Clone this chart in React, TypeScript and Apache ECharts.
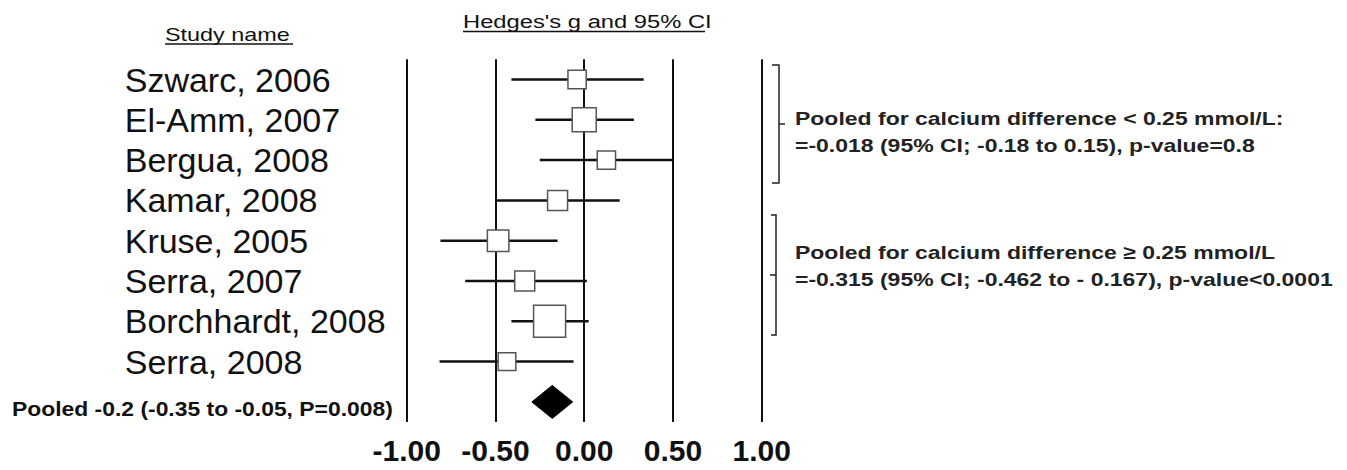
import React, { useEffect, useRef } from "react";
import * as echarts from "echarts";

// ---- data ----
const studyNames = [
  "Szwarc, 2006",
  "El-Amm, 2007",
  "Bergua, 2008",
  "Kamar, 2008",
  "Kruse, 2005",
  "Serra, 2007",
  "Borchhardt, 2008",
  "Serra, 2008",
];
const hedgesG = [-0.04, 0.0, 0.125, -0.15, -0.485, -0.335, -0.195, -0.435];
const lowerCI = [-0.41, -0.275, -0.25, -0.5, -0.81, -0.67, -0.41, -0.815];
const upperCI = [0.335, 0.28, 0.5, 0.2, -0.15, 0.015, 0.025, -0.06];
const weightPct = [8.7, 15.0, 8.7, 10.4, 12.0, 10.4, 26.7, 8.1];
const pooledDiamond = [-0.295, -0.18, -0.065]; // lower, estimate, upper

const pooledLabel = "Pooled -0.2 (-0.35 to -0.05, P=0.008)";
const groupNotes = [
  "Pooled for calcium difference < 0.25 mmol/L:",
  "=-0.018 (95% CI; -0.18 to 0.15), p-value=0.8",
  "Pooled for calcium difference \u2265 0.25 mmol/L",
  "=-0.315 (95% CI; -0.462 to - 0.167), p-value<0.0001",
];
const colTitles = ["Study name", "Hedges's g and 95% CI"];

const FONT = '"Liberation Sans", Arial, Helvetica, sans-serif';
const INK = "#111";

function txt(text: string, x: number, y: number, font: string, sx: number, fill = INK) {
  return {
    type: "text",
    x,
    y,
    scaleX: sx,
    scaleY: 1,
    silent: true,
    style: {
      text,
      font,
      fill,
      textAlign: "left",
      textVerticalAlign: "middle",
      align: "left",
      verticalAlign: "middle",
    },
  };
}

function seg(x1: number, y1: number, x2: number, y2: number, w = 1.5, c = "#222") {
  return {
    type: "line",
    silent: true,
    shape: { x1, y1, x2, y2 },
    style: { stroke: c, lineWidth: w },
  };
}

export default function App() {
  const ref = useRef<HTMLDivElement>(null);

  useEffect(() => {
    document.body.style.margin = "0";
    if (!ref.current) return;
    const chart = echarts.init(ref.current, undefined, { renderer: "svg" });

    const categories = [...studyNames, ""];
    const studyData = studyNames.map((_, i) => [
      lowerCI[i],
      upperCI[i],
      hedgesG[i],
      weightPct[i],
      i,
    ]);
    const pooledData = [[pooledDiamond[0], pooledDiamond[2], pooledDiamond[1], studyNames.length]];

    const option: any = {
      animation: false,
      backgroundColor: "#fff",
      textStyle: { fontFamily: FONT },
      grid: {
        left: 406.7,
        right: 585.3,
        top: 59.35,
        bottom: 47.95,
        containLabel: false,
        outerBoundsMode: "none",
      },
      xAxis: {
        type: "value",
        min: -1,
        max: 1,
        interval: 0.5,
        axisLine: { show: false },
        axisTick: { show: false },
        splitLine: { show: true, lineStyle: { color: INK, width: 2 } },
        axisLabel: {
          show: true,
          fontFamily: FONT,
          fontSize: 30,
          fontWeight: "bold",
          color: INK,
          margin: 13,
          formatter: (v: number) => v.toFixed(2),
        },
      },
      yAxis: {
        type: "category",
        data: categories,
        inverse: true,
        axisLine: { show: false },
        axisTick: { show: false },
        splitLine: { show: false },
        axisLabel: {
          interval: 0,
          fontFamily: FONT,
          fontSize: 34,
          color: INK,
          align: "left",
          margin: 282,
        },
      },
      series: [
        {
          type: "custom",
          data: studyData,
          encode: { x: [0, 1, 2], y: 4 },
          renderItem: (_p: any, api: any) => {
            const row = api.value(4);
            const a = api.coord([api.value(0), row]);
            const b = api.coord([api.value(1), row]);
            const c = api.coord([api.value(2), row]);
            const s = Math.sqrt(api.value(3) * 38.4);
            return {
              type: "group",
              children: [
                {
                  type: "line",
                  shape: { x1: a[0], y1: a[1], x2: b[0], y2: b[1] },
                  style: { stroke: INK, lineWidth: 2.5 },
                },
                {
                  type: "rect",
                  shape: { x: c[0] - s / 2, y: c[1] - s / 2, width: s, height: s },
                  style: { fill: "#fff", stroke: "#555", lineWidth: 1.5 },
                },
              ],
            };
          },
          z: 3,
        },
        {
          type: "custom",
          data: pooledData,
          encode: { x: [0, 1, 2], y: 3 },
          renderItem: (_p: any, api: any) => {
            const row = api.value(3);
            const a = api.coord([api.value(0), row]);
            const b = api.coord([api.value(1), row]);
            const c = api.coord([api.value(2), row]);
            const h = api.size([0, 1])[1] * 0.41;
            return {
              type: "polygon",
              shape: {
                points: [
                  [a[0], a[1]],
                  [c[0], c[1] - h],
                  [b[0], b[1]],
                  [c[0], c[1] + h],
                ],
              },
              style: { fill: "#000", stroke: "#000", lineWidth: 1 },
            };
          },
          z: 3,
        },
      ],
      graphic: [
        // column headings
        txt(colTitles[0], 165, 34.7, `normal 18px ${FONT}`, 1.3),
        seg(165, 44, 293, 44, 1.5, INK),
        txt(colTitles[1], 463, 21.5, `normal 18px ${FONT}`, 1.32),
        seg(463, 31.5, 705, 31.5, 1.5, INK),
        // pooled label
        txt(pooledLabel, 12, 409, `bold 21px ${FONT}`, 1.09),
        // brackets
        {
          type: "polyline",
          silent: true,
          shape: { points: [[772, 65], [779, 65], [779, 183], [772, 183]] },
          style: { stroke: "#222", lineWidth: 1.5, fill: "none" },
        },
        seg(779, 124, 785, 124),
        {
          type: "polyline",
          silent: true,
          shape: { points: [[771, 215], [776, 215], [776, 335], [771, 335]] },
          style: { stroke: "#222", lineWidth: 1.5, fill: "none" },
        },
        seg(770, 275, 776, 275),
        // group notes
        txt(groupNotes[0], 795, 118, `bold 19px ${FONT}`, 1.21, "#222"),
        txt(groupNotes[1], 795, 145, `bold 19px ${FONT}`, 1.21, "#222"),
        txt(groupNotes[2], 795, 252, `bold 19px ${FONT}`, 1.21, "#222"),
        txt(groupNotes[3], 795, 279, `bold 19px ${FONT}`, 1.21, "#222"),
      ],
    };

    chart.setOption(option);
    return () => chart.dispose();
  }, []);

  return <div ref={ref} style={{ width: 1347, height: 470 }} />;
}
